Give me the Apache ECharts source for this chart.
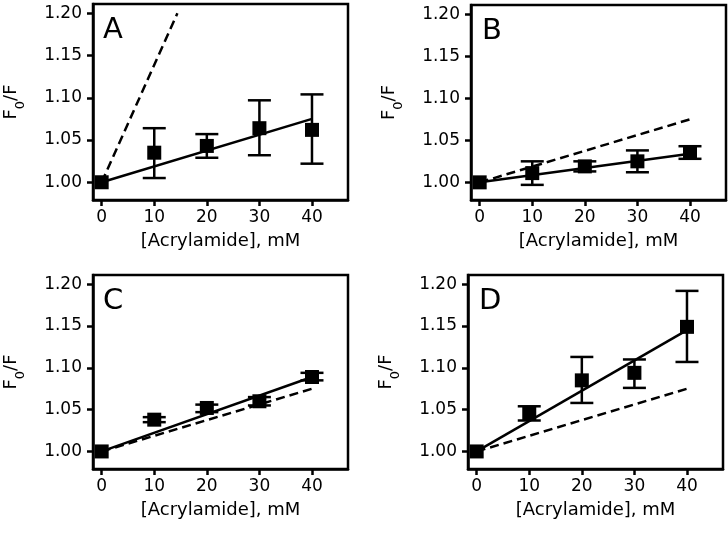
<!DOCTYPE html>
<html><head><meta charset="utf-8">
<script src="https://cdn.jsdelivr.net/npm/echarts@6/dist/echarts.min.js"></script>
<style>html,body{margin:0;padding:0;background:#fff}#c{width:728px;height:533px}</style>
</head><body><div id="c"></div>
<script>
// ---- data ----
const panels = ['A', 'B', 'C', 'D'];
const xValues = [0, 10, 20, 30, 40];
const xTicks = [0, 10, 20, 30, 40];
const yTicks = [1.00, 1.05, 1.10, 1.15, 1.20];

const meanA = [1.000, 1.035, 1.043, 1.064, 1.062];
const lowA  = [null, 1.005, 1.029, 1.032, 1.022];
const highA = [null, 1.064, 1.057, 1.097, 1.104];

const meanB = [1.000, 1.011, 1.019, 1.025, 1.035];
const lowB  = [null, 0.997, 1.013, 1.012, 1.028];
const highB = [null, 1.025, 1.025, 1.038, 1.043];

const meanC = [1.000, 1.038, 1.052, 1.060, 1.089];
const lowC  = [null, 1.035, 1.047, 1.055, 1.085];
const highC = [null, 1.041, 1.056, 1.065, 1.094];

const meanD = [1.000, 1.045, 1.085, 1.094, 1.149];
const lowD  = [null, 1.037, 1.058, 1.076, 1.107];
const highD = [null, 1.054, 1.113, 1.110, 1.192];

// fitted lines (solid) and reference lines (dashed): [x, y] endpoints
const fitA = [[0, 1.000], [40, 1.075]];
const fitB = [[0, 1.000], [40, 1.034]];
const fitC = [[0, 1.000], [40, 1.089]];
const fitD = [[0, 1.000], [40, 1.145]];
const dashA = [[0, 1.000], [14.4, 1.200]];
const dashB = [[0, 1.000], [40, 1.075]];
const dashC = [[0, 1.000], [40, 1.075]];
const dashD = [[0, 1.000], [40, 1.075]];

const xTitle = '[Acrylamide], mM';

// ---- build ----
const means = [meanA, meanB, meanC, meanD];
const lows = [lowA, lowB, lowC, lowD];
const highs = [highA, highB, highC, highD];
const fits = [fitA, fitB, fitC, fitD];
const dashes = [dashA, dashB, dashC, dashD];

const grids = [
  {left: 93, top: 4, width: 255, height: 196},
  {left: 471, top: 5, width: 255, height: 195},
  {left: 93, top: 275, width: 255, height: 194},
  {left: 468, top: 275, width: 255, height: 194}
];
const FONT = 'DejaVu Sans';
const LW = 2.5;

const option = {
  animation: false,
  backgroundColor: '#fff',
  grid: grids.map(g => Object.assign({show: true, borderColor: '#000', borderWidth: LW, containLabel: false}, g)),
  title: panels.map((p, i) => ({
    text: p,
    left: grids[i].left + (i % 2 === 0 ? 5 : 6),
    top: grids[i].top + 7,
    textStyle: {fontFamily: FONT, fontSize: 29, fontWeight: 'normal', color: '#000'}
  })),
  xAxis: panels.map((p, i) => ({
    type: 'value', gridIndex: i, min: -1.65, max: 46.85,
    name: xTitle, nameLocation: 'middle', nameGap: 32,
    nameTextStyle: {fontFamily: FONT, fontSize: 18, color: '#000'},
    axisLine: {show: true, onZero: false, lineStyle: {color: '#000', width: LW}},
    axisTick: {show: true, length: 6, lineStyle: {color: '#000', width: LW}, customValues: xTicks},
    axisLabel: {fontFamily: FONT, fontSize: 17, color: '#000', margin: 9, customValues: xTicks},
    splitLine: {show: false}
  })),
  yAxis: panels.map((p, i) => ({
    type: 'value', gridIndex: i, min: 0.979, max: 1.211,
    name: '{f|F}{s|0}{f|/F}', nameLocation: 'middle', nameGap: 66, nameRotate: 90,
    nameTextStyle: {
      color: '#000',
      rich: {
        f: {fontFamily: FONT, fontSize: 18, color: '#000', lineHeight: 25, verticalAlign: 'top'},
        s: {fontFamily: FONT, fontSize: 13, color: '#000', lineHeight: 25, verticalAlign: 'bottom'}
      }
    },
    axisLine: {show: true, onZero: false, lineStyle: {color: '#000', width: LW}},
    axisTick: {show: true, length: 6, lineStyle: {color: '#000', width: LW}, customValues: yTicks},
    axisLabel: {fontFamily: FONT, fontSize: 17, color: '#000', margin: 11, customValues: yTicks,
      formatter: v => Number(v).toFixed(2)},
    splitLine: {show: false}
  })),
  series: []
};

panels.forEach((p, i) => {
  option.series.push({
    type: 'line', xAxisIndex: i, yAxisIndex: i, data: dashes[i], showSymbol: false, silent: true,
    lineStyle: {color: '#000', width: LW, type: [9, 5]}, z: 2
  });
  option.series.push({
    type: 'line', xAxisIndex: i, yAxisIndex: i, data: fits[i], showSymbol: false, silent: true,
    lineStyle: {color: '#000', width: LW}, z: 2
  });
  const errData = xValues.map((x, k) => [x, lows[i][k], highs[i][k]]).filter(d => d[1] != null);
  option.series.push({
    type: 'custom', xAxisIndex: i, yAxisIndex: i, data: errData, z: 3,
    renderItem: (params, api) => {
      const lo = api.coord([api.value(0), api.value(1)]);
      const hi = api.coord([api.value(0), api.value(2)]);
      const hw = 11.5;
      const st = {stroke: '#000', lineWidth: LW, fill: null};
      return {type: 'group', children: [
        {type: 'line', shape: {x1: lo[0], y1: lo[1], x2: hi[0], y2: hi[1]}, style: st},
        {type: 'line', shape: {x1: lo[0] - hw, y1: lo[1], x2: lo[0] + hw, y2: lo[1]}, style: st},
        {type: 'line', shape: {x1: hi[0] - hw, y1: hi[1], x2: hi[0] + hw, y2: hi[1]}, style: st}
      ]};
    }
  });
  option.series.push({
    type: 'scatter', xAxisIndex: i, yAxisIndex: i,
    data: xValues.map((x, k) => [x, means[i][k]]),
    symbol: 'rect', symbolSize: 14, itemStyle: {color: '#000', opacity: 1}, z: 4
  });
});

const chart = echarts.init(document.getElementById('c'));
chart.setOption(option);
</script>
</body></html>
